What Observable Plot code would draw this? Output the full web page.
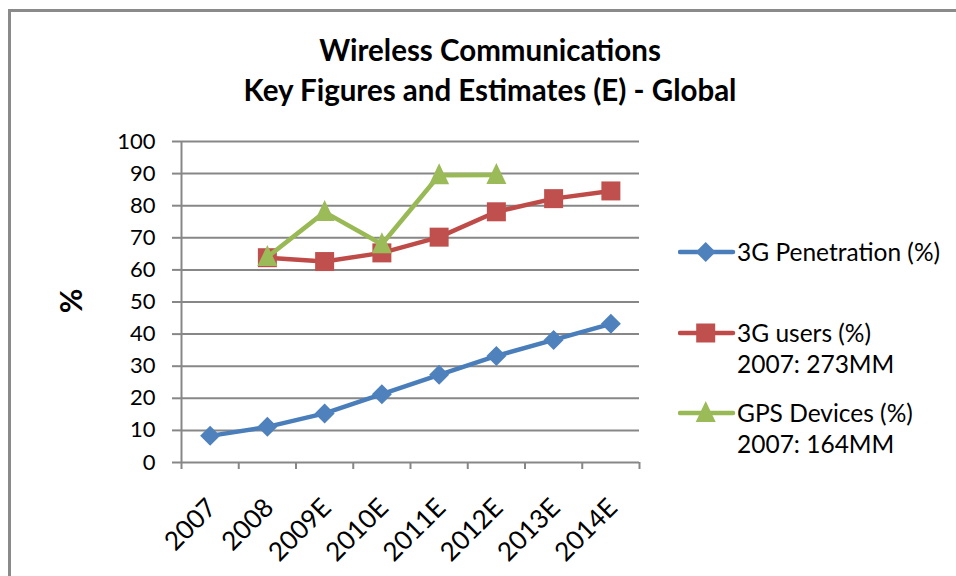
<!DOCTYPE html>
<html>
<head>
<meta charset="utf-8">
<script src="https://cdn.jsdelivr.net/npm/d3@7"></script>
<script src="https://cdn.jsdelivr.net/npm/@observablehq/plot@0.6"></script>
<style>
  html, body { margin: 0; padding: 0; background: #fff; }
  #wrap { position: relative; width: 956px; height: 576px; overflow: hidden; font-family: Lato, "Open Sans", sans-serif; color: #000; }
  #frame { position: absolute; left: 8px; top: 9px; width: 1000px; height: 600px; border-left: 3px solid #8a8a8a; border-top: 3px solid #8a8a8a; }
  #chart { position: absolute; left: 0; top: 0; }
  .title { position: absolute; left: 0; width: 980px; text-align: center; font-weight: bold; font-size: 29.5px; line-height: 30px; }
  #ytitle { position: absolute; left: 70px; top: 301px; transform: translate(-50%, -50%) rotate(-90deg); font-weight: bold; font-size: 30px; line-height: 1; }
  .leg { position: absolute; left: 678px; font-size: 24.5px; line-height: 31px; }
  .leg svg { position: absolute; left: 0; top: 0; }
  .leg .txt { position: absolute; left: 59px; top: 0; white-space: nowrap; }
</style>
</head>
<body>
<div id="wrap">
  <div id="frame"></div>
  <div id="chart"></div>
  <div class="title" style="top:35px">Wireless Communications</div>
  <div class="title" style="top:75px">Key Figures and Estimates (E) - Global</div>
  <div id="ytitle">%</div>
  <div id="legend"></div>
</div>
<script>
// ---- data ----
const categories = ["2007", "2008", "2009E", "2010E", "2011E", "2012E", "2013E", "2014E"];
const penetration3G = [8.3, 11.1, 15.3, 21.3, 27.3, 33.2, 38.2, 43.2];
const users3G = [null, 63.8, 62.6, 65.3, 70.2, 78.1, 82.2, 84.6];
const gpsDevices = [null, 64, 78, 68, 89.5, 89.6, null, null];
const yTicks = [0, 10, 20, 30, 40, 50, 60, 70, 80, 90, 100];
const seriesNames = ["3G Penetration (%)", "3G users (%)", "GPS Devices (%)"];
const seriesNotes = ["", "2007: 273MM", "2007: 164MM"];

// ---- styles ----
const colors = ["#4A7EBB", "#BE4B48", "#98B954"];
const markerColors = ["#4F81BD", "#C0504D", "#9BBB59"];
const axisGrey = "#878787";

const diamond = { draw(ctx, size) { const r = Math.sqrt(size / Math.PI); ctx.moveTo(0, -r); ctx.lineTo(r, 0); ctx.lineTo(0, r); ctx.lineTo(-r, 0); ctx.closePath(); } };
const square = { draw(ctx, size) { const r = Math.sqrt(size / Math.PI); ctx.moveTo(-r, -r); ctx.lineTo(r, -r); ctx.lineTo(r, r); ctx.lineTo(-r, r); ctx.closePath(); } };
const triangle = { draw(ctx, size) { const r = Math.sqrt(size / Math.PI); ctx.moveTo(0, -1.2 * r); ctx.lineTo(r, 0.9 * r); ctx.lineTo(-r, 0.9 * r); ctx.closePath(); } };
const symbols = [diamond, square, triangle];
const radii = [10, 9.5, 10];

const allSeries = [penetration3G, users3G, gpsDevices];
const rows = allSeries.map(vals => vals.map((v, i) => ({ i: i + 0.5, v })).filter(d => d.v != null));
const boundaries = d3.range(categories.length + 1);

const marks = [
  Plot.ruleY(yTicks.filter(t => t > 0), { stroke: axisGrey, strokeWidth: 2 }),
  Plot.axisY(yTicks, { tickSize: 9, tickPadding: 17, fontSize: 22, stroke: axisGrey, strokeWidth: 2, label: null }),
  Plot.axisX(boundaries, { tickSize: 7, tickFormat: () => "", stroke: axisGrey, strokeWidth: 2, label: null }),
  Plot.ruleY([0], { stroke: axisGrey, strokeWidth: 2 }),
  Plot.ruleX([0], { stroke: axisGrey, strokeWidth: 2 }),
  Plot.text(categories, { x: (d, i) => i + 0.5, y: () => 0, rotate: -45, textAnchor: "end", lineAnchor: "middle", dx: 2, dy: 41, fontSize: 26, fill: "#000" })
];
rows.forEach((data, k) => {
  marks.push(Plot.line(data, { x: "i", y: "v", stroke: colors[k], strokeWidth: 4.5, strokeLinejoin: "round", strokeLinecap: "round" }));
  marks.push(Plot.dot(data, { x: "i", y: "v", symbol: symbols[k], r: radii[k], fill: markerColors[k], stroke: "none" }));
});

const chart = Plot.plot({
  width: 956,
  height: 576,
  marginLeft: 181,
  marginRight: 317,
  marginTop: 141,
  marginBottom: 114,
  style: { background: "transparent", fontFamily: "Lato, 'Open Sans', sans-serif", color: "#000" },
  x: { type: "linear", domain: [0, categories.length], axis: null },
  y: { domain: [0, 100], axis: null },
  marks
});
document.getElementById("chart").appendChild(chart);

// ---- legend ----
const legendTops = [236, 317, 397];
const legend = document.getElementById("legend");
seriesNames.forEach((name, k) => {
  const item = document.createElement("div");
  item.className = "leg";
  item.style.top = legendTops[k] + "px";
  const sym = k === 0
    ? `<path d="M27.7,6 L37.7,16 L27.7,26 L17.7,16 Z" fill="${markerColors[0]}"/>`
    : k === 1
    ? `<rect x="18.2" y="6.5" width="19" height="19" fill="${markerColors[1]}"/>`
    : `<path d="M27.7,4 L37.7,25 L17.7,25 Z" fill="${markerColors[2]}"/>`;
  item.innerHTML = `<svg width="60" height="31"><line x1="2" y1="16" x2="55" y2="16" stroke="${colors[k]}" stroke-width="4.5" stroke-linecap="round"/>${sym}</svg>` +
    `<div class="txt">${name}${seriesNotes[k] ? "<br>" + seriesNotes[k] : ""}</div>`;
  legend.appendChild(item);
});
</script>
</body>
</html>
